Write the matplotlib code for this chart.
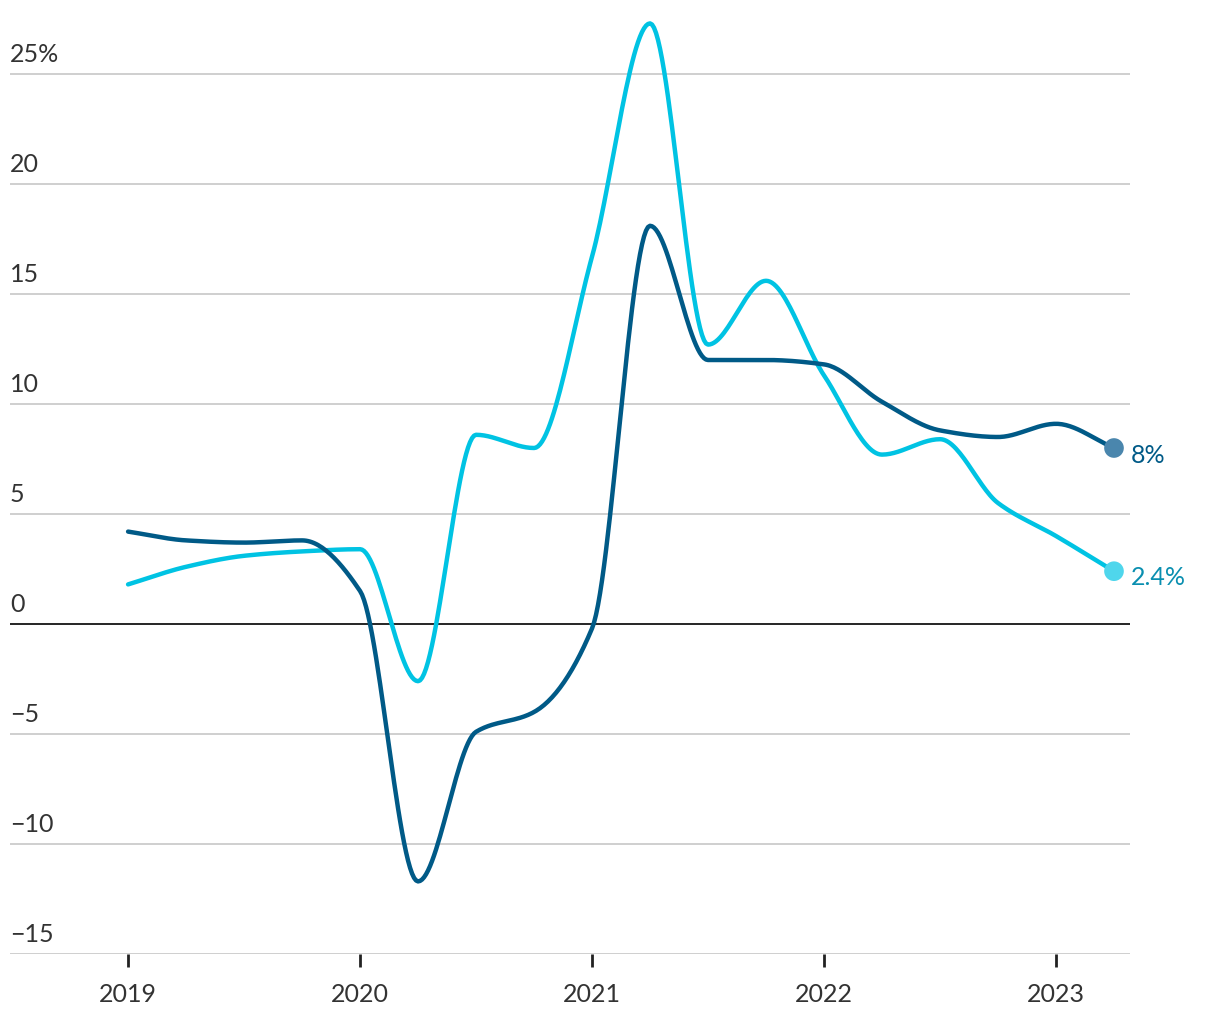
import matplotlib
matplotlib.use("Agg")
import matplotlib.pyplot as plt
import numpy as np

plt.rcParams['font.family'] = ['Lato', 'DejaVu Sans']

# quarterly values, 2019 Q1 .. 2023 Q2
quarters = np.arange(2019.0, 2023.26, 0.25)
dark_vals = [4.2, 3.8, 3.7, 3.8, 1.5, -11.7, -4.9, -4.0, -0.2, 18.1,
             12.0, 12.0, 11.8, 10.1, 8.8, 8.5, 9.1, 8.0]
light_vals = [1.8, 2.6, 3.1, 3.3, 3.4, -2.6, 8.6, 8.0, 16.7, 27.3,
              12.7, 15.6, 11.3, 7.7, 8.4, 5.5, 4.0, 2.4]
year_ticks = [2019, 2020, 2021, 2022, 2023]
y_ticks = [-15, -10, -5, 0, 5, 10, 15, 20, 25]
y_labels = ['\u221215', '\u221210', '\u22125', '0', '5', '10', '15', '20', '25%']

dark_col = '#005a87'
light_col = '#00c3e3'


# monotone cubic curve (like d3 curveMonotoneX) just for drawing the line
def smooth(x, y, n=30):
    x = np.asarray(x, float)
    y = np.asarray(y, float)
    h = np.diff(x)
    d = np.diff(y) / h
    m = np.zeros_like(y)
    m[0], m[-1] = d[0], d[-1]
    for i in range(1, len(y) - 1):
        if d[i - 1] * d[i] <= 0:
            m[i] = 0
        else:
            m[i] = 2 / (1 / d[i - 1] + 1 / d[i])
            m[i] = np.sign(d[i]) * min(abs(m[i]), 3 * min(abs(d[i - 1]), abs(d[i])))
    xs, ys = [], []
    for i in range(len(x) - 1):
        t = np.linspace(0, 1, n)
        h00 = 2 * t**3 - 3 * t**2 + 1
        h10 = t**3 - 2 * t**2 + t
        h01 = -2 * t**3 + 3 * t**2
        h11 = t**3 - t**2
        xs.append(x[i] + t * h[i])
        ys.append(h00 * y[i] + h10 * h[i] * m[i] + h01 * y[i + 1] + h11 * h[i] * m[i + 1])
    return np.concatenate(xs), np.concatenate(ys)


fig = plt.figure(figsize=(12.2, 10.2), dpi=100)
ax = fig.add_axes([10 / 1220, 65 / 1020, 1120 / 1220, 946 / 1020])
ax.set_xlim(2018.491, 2023.319)
ax.set_ylim(-15, 28)

for v in y_ticks:
    if v == 0:
        ax.axhline(0, color='black', lw=1.2, zorder=2)
    else:
        ax.axhline(v, color='#cccccc', lw=1.3, zorder=1)
    ax.text(0, v + 0.4, y_labels[y_ticks.index(v)], transform=ax.get_yaxis_transform(),
            ha='left', va='bottom', fontsize=18, color='#333333')

xs, ys = smooth(quarters, light_vals)
ax.plot(xs, ys, color=light_col, lw=3.2, zorder=3, solid_capstyle='round')
xs, ys = smooth(quarters, dark_vals)
ax.plot(xs, ys, color=dark_col, lw=3.2, zorder=4, solid_capstyle='round')

ax.scatter([quarters[-1]], [dark_vals[-1]], s=200, color='#4a86ad', zorder=5, edgecolors='none')
ax.scatter([quarters[-1]], [light_vals[-1]], s=200, color='#4fd6ec', zorder=5, edgecolors='none')
ax.annotate('8%', (quarters[-1], dark_vals[-1]), xytext=(12, -5), textcoords='offset points',
            va='center', ha='left', fontsize=18, color=dark_col)
ax.annotate('2.4%', (quarters[-1], light_vals[-1]), xytext=(12, -4), textcoords='offset points',
            va='center', ha='left', fontsize=18, color='#0a8fb0')

for s in ax.spines.values():
    s.set_visible(False)
ax.set_yticks([])
ax.set_xticks(year_ticks)
ax.set_xticklabels([str(y) for y in year_ticks], fontsize=18, color='#333333')
ax.tick_params(axis='x', length=9.5, width=2, color='#222222', pad=11)

fig.savefig('out.png', dpi=100)
